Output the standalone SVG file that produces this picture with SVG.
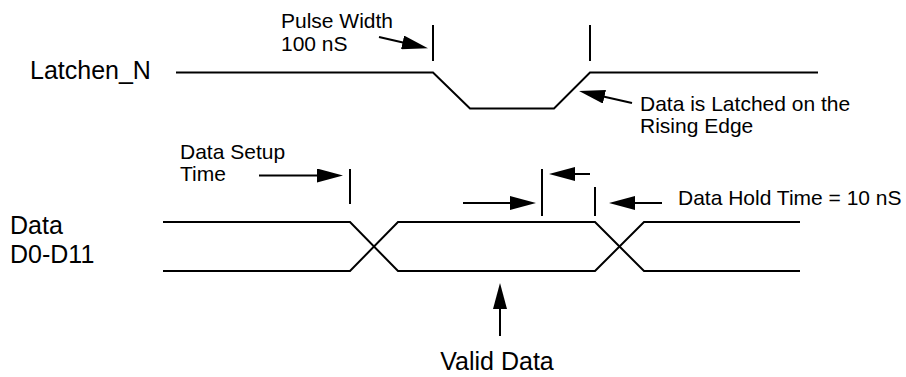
<svg xmlns="http://www.w3.org/2000/svg" width="906" height="377" viewBox="0 0 906 377">
<style>
.w{fill:none;stroke:#000;stroke-width:2;stroke-linejoin:miter}
.a{fill:none;stroke:#000;stroke-width:2;marker-end:url(#ah)}
.t{font-family:"Liberation Sans",Arial,sans-serif;font-size:21px;fill:#000}
.L{font-family:"Liberation Sans",Arial,sans-serif;font-size:25px;fill:#000}
</style>
<defs>
<marker id="ah" markerUnits="userSpaceOnUse" markerWidth="26" markerHeight="14" refX="16" refY="7" orient="auto" viewBox="0 0 26 14">
<path d="M0,0 L26,7 L0,14 z" fill="#000"/>
</marker>
</defs>
<rect width="906" height="377" fill="#fff"/>
<g id="latchen-signal">
<text class="L" x="30" y="79">Latchen_N</text>
<polyline class="w" points="176,72.5 433,72.5 470,108.5 554,108.5 590,72.5 818,72.5"/>
<line class="w" x1="433" y1="25" x2="433" y2="61"/>
<line class="w" x1="590" y1="25" x2="590" y2="61"/>
</g>
<g id="data-signal">
<text class="L" x="10" y="234">Data</text>
<text class="L" x="10" y="263">D0-D11</text>
<polyline class="w" points="163,222 350,222 398,271 595,271 644,222 800,222"/>
<polyline class="w" points="163,271 350,271 398,222 595,222 644,271 800,271"/>
<line class="w" x1="350" y1="169" x2="350" y2="204"/>
<line class="w" x1="542" y1="169" x2="542" y2="216"/>
<line class="w" x1="595" y1="187" x2="595" y2="216"/>
</g>
<g id="pulse-width-label">
<text class="t" x="281" y="28">Pulse Width</text>
<text class="t" x="281" y="51">100 nS</text>
</g>
<g id="latched-label">
<text class="t" x="640" y="111">Data is Latched on the</text>
<text class="t" x="640" y="133">Rising Edge</text>
</g>
<g id="setup-label">
<text class="t" x="180" y="159">Data Setup</text>
<text class="t" x="180" y="181">Time</text>
</g>
<g id="hold-label">
<text class="t" x="678" y="205">Data Hold Time = 10 nS</text>
</g>
<g id="valid-label">
<text class="L" x="497" y="370" text-anchor="middle">Valid Data</text>
</g>
<g id="connectors">
<line class="a" x1="379" y1="37" x2="418.2" y2="46"/>
<line class="a" x1="632" y1="103" x2="588.8" y2="93.2"/>
<line class="a" x1="259" y1="175.5" x2="333" y2="175.5"/>
<line class="a" x1="463" y1="203" x2="526" y2="203"/>
<line class="a" x1="590" y1="174" x2="559" y2="174"/>
<line class="a" x1="662" y1="203" x2="619" y2="203"/>
<line class="a" x1="500" y1="336" x2="500" y2="293"/>
</g>
</svg>
